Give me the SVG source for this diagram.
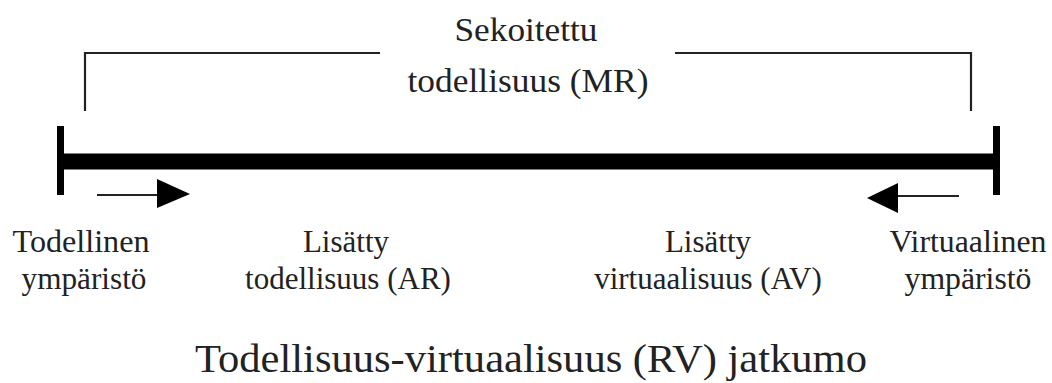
<svg xmlns="http://www.w3.org/2000/svg" width="1052" height="383" viewBox="0 0 1052 383">
<style>
text { font-family: "Liberation Serif", Tinos, "Times New Roman", Times, "Noto Serif", "DejaVu Serif", FreeSerif, serif; fill: #222; text-anchor: middle; }
.lbl { font-size: 31px; }
.top { font-size: 34px; }
.ttl { font-size: 41px; }
.thin { stroke: #222; stroke-width: 2.2; fill: none; }
.head { fill: #000; }
</style>
<rect width="1052" height="383" fill="#fff"/>
<g id="connectors">
  <path class="thin" d="M85,111 V53 H380"/>
  <path class="thin" d="M675,53 H971 V111"/>
  <rect x="60" y="153.5" width="936" height="16" fill="#000"/>
  <rect x="57" y="126" width="7" height="69" fill="#000"/>
  <rect x="993" y="126" width="7" height="69" fill="#000"/>
  <line class="thin" x1="97" y1="195" x2="160" y2="195"/>
  <polygon class="head" points="157,179 190,194 157,208"/>
  <line class="thin" x1="895" y1="196" x2="959" y2="196"/>
  <polygon class="head" points="898,183 867,198 898,213"/>
</g>
<g id="mr"><text class="top" x="526" y="41" textLength="143" lengthAdjust="spacingAndGlyphs">Sekoitettu</text><text class="top" x="528" y="92" textLength="241" lengthAdjust="spacingAndGlyphs">todellisuus (MR)</text></g>
<g id="real"><text class="lbl" x="81" y="252" textLength="137" lengthAdjust="spacingAndGlyphs">Todellinen</text><text class="lbl" x="84" y="289" textLength="125" lengthAdjust="spacingAndGlyphs">ympäristö</text></g>
<g id="ar"><text class="lbl" x="346" y="252">Lisätty</text><text class="lbl" x="348" y="289">todellisuus (AR)</text></g>
<g id="av"><text class="lbl" x="708" y="252">Lisätty</text><text class="lbl" x="708" y="289">virtuaalisuus (AV)</text></g>
<g id="virtual"><text class="lbl" x="968" y="252" textLength="157" lengthAdjust="spacingAndGlyphs">Virtuaalinen</text><text class="lbl" x="968" y="289" textLength="127" lengthAdjust="spacingAndGlyphs">ympäristö</text></g>
<g id="title"><text class="ttl" x="531" y="372" textLength="672" lengthAdjust="spacingAndGlyphs">Todellisuus-virtuaalisuus (RV) jatkumo</text></g>
</svg>
